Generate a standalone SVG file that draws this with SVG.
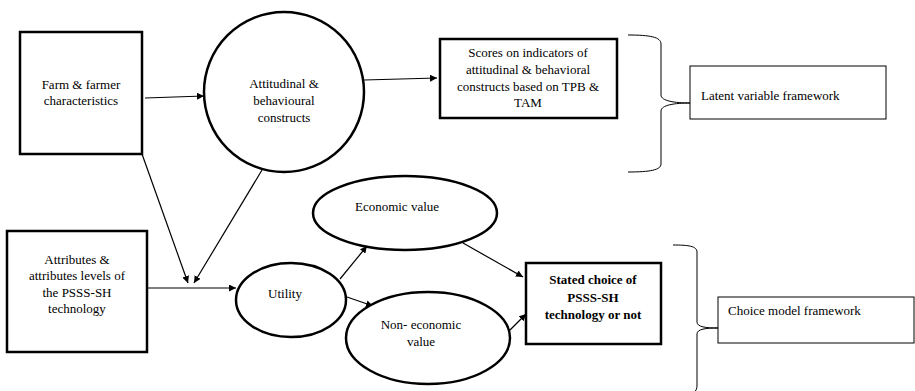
<svg xmlns="http://www.w3.org/2000/svg" width="915" height="391" viewBox="0 0 915 391" font-family="'Liberation Serif', 'DejaVu Serif', serif">
<style>
text{font-family:'Liberation Serif','DejaVu Serif',serif;font-size:13px;fill:#000}
.c{text-anchor:middle}
.b{font-weight:bold}
.thick{fill:#fff;stroke:#000;stroke-width:2.5}
.thin{fill:#fff;stroke:#000;stroke-width:1}
.ln{fill:none;stroke:#000;stroke-width:1.2}
.br{fill:none;stroke:#000;stroke-width:1}
</style>
<defs>
<marker id="ah" viewBox="0 0 10 10" refX="10" refY="5" markerWidth="7" markerHeight="7" markerUnits="userSpaceOnUse" orient="auto">
<path d="M0,0 L10,5 L0,10 z" fill="#000"/>
</marker>
</defs>
<g id="connectors">
<line class="ln" x1="145" y1="98" x2="204" y2="96" marker-end="url(#ah)"/>
<line class="ln" x1="364" y1="80" x2="437" y2="78" marker-end="url(#ah)"/>
<line class="ln" x1="142" y1="154" x2="188" y2="283" marker-end="url(#ah)"/>
<line class="ln" x1="262" y1="170" x2="194" y2="283" marker-end="url(#ah)"/>
<line class="ln" x1="147" y1="288" x2="236" y2="288" marker-end="url(#ah)"/>
<line class="ln" x1="340" y1="279" x2="367" y2="246" marker-end="url(#ah)"/>
<line class="ln" x1="347" y1="297" x2="373" y2="306" marker-end="url(#ah)"/>
<line class="ln" x1="463" y1="243" x2="523" y2="277" marker-end="url(#ah)"/>
<line class="ln" x1="510" y1="330" x2="526" y2="314" marker-end="url(#ah)"/>
</g>
<g id="farm">
<rect class="thick" x="20" y="32" width="122" height="122"/>
<text class="c" x="81" y="89">Farm &amp; farmer</text>
<text class="c" x="81" y="105">characteristics</text>
</g>
<g id="attitudinal">
<circle class="thick" cx="284" cy="92" r="80"/>
<text class="c" x="284" y="88">Attitudinal &amp;</text>
<text class="c" x="284" y="105">behavioural</text>
<text class="c" x="284" y="122">constructs</text>
</g>
<g id="scores">
<rect class="thick" x="440" y="39" width="177" height="79" stroke-width="3"/>
<text class="c" x="528" y="57">Scores on indicators of</text>
<text class="c" x="528" y="74">attitudinal &amp; behavioral</text>
<text class="c" x="528" y="91">constructs based on TPB &amp;</text>
<text class="c" x="528" y="107">TAM</text>
</g>
<g id="brace1">
<path class="br" d="M628,35 C650,35 661,37 661,44 L661,95 C661,101 675,103 690,103 C675,103 661,105 661,111 L661,164 C661,170 650,172 628,172"/>
</g>
<g id="latent">
<rect class="thin" x="690" y="66" width="196" height="53"/>
<text x="701" y="100">Latent variable framework</text>
</g>
<g id="attributes">
<rect class="thick" x="7" y="231" width="140" height="121"/>
<text class="c" x="77" y="264">Attributes &amp;</text>
<text class="c" x="77" y="280">attributes levels of</text>
<text class="c" x="77" y="297">the PSSS-SH</text>
<text class="c" x="77" y="313">technology</text>
</g>
<g id="utility">
<ellipse class="thick" cx="291" cy="300" rx="55" ry="37"/>
<text class="c" x="285" y="298">Utility</text>
</g>
<g id="economic">
<ellipse class="thick" cx="405" cy="213" rx="92" ry="37"/>
<text class="c" x="397" y="211">Economic value</text>
</g>
<g id="noneconomic">
<ellipse class="thick" cx="428" cy="338" rx="82" ry="46"/>
<text class="c" x="421" y="329">Non- economic</text>
<text class="c" x="421" y="346">value</text>
</g>
<g id="stated">
<rect class="thick" x="526" y="263" width="135" height="81" stroke-width="3"/>
<text class="c b" x="593" y="284">Stated choice of</text>
<text class="c b" x="593" y="302">PSSS-SH</text>
<text class="c b" x="593" y="319">technology or not</text>
</g>
<g id="brace2">
<path class="br" d="M673,245 C688,245 697,246 697,252 L697,322 C697,327 706,328 718,328 C706,328 697,329 697,334 L697,385 C697,389 696,391 694,392"/>
</g>
<g id="choice">
<rect class="thin" x="718" y="297" width="196" height="46"/>
<text x="728" y="315">Choice model framework</text>
</g>
</svg>
